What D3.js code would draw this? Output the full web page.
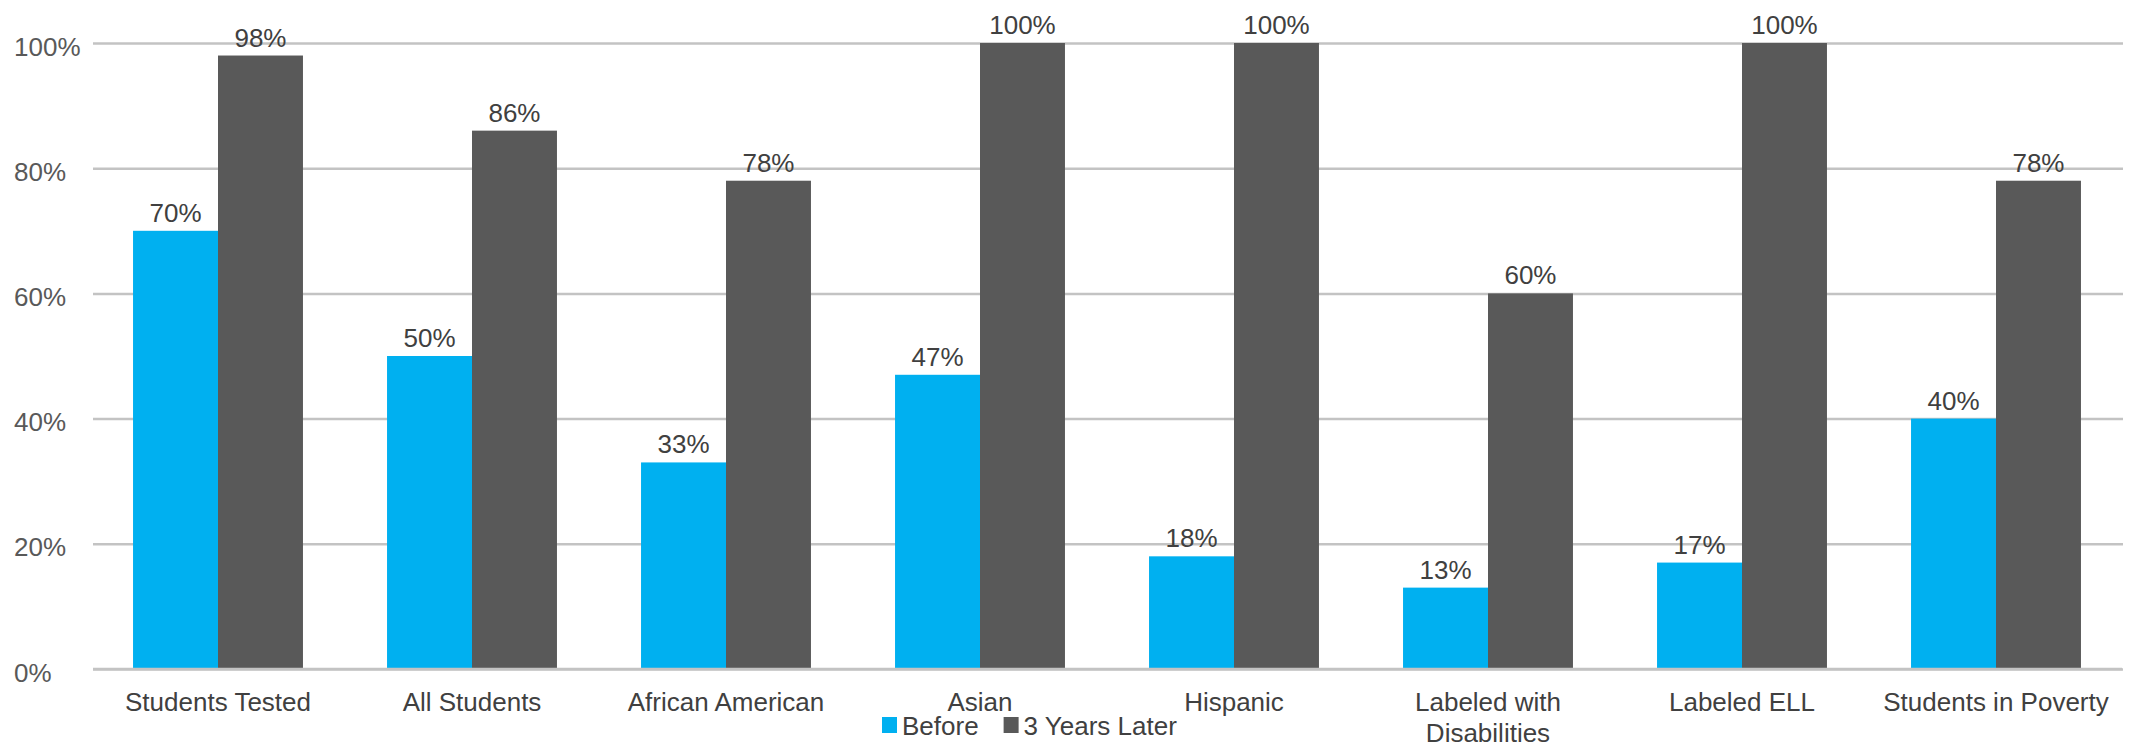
<!DOCTYPE html>
<html>
<head>
<meta charset="utf-8">
<script src="https://cdn.jsdelivr.net/npm/d3@7"></script>
<style>
  html, body { margin: 0; padding: 0; background: #fff; }
  svg { display: block; }
  text { font-family: "Liberation Sans", Arial, sans-serif; }
</style>
</head>
<body>
<svg id="chart" width="2129" height="748"></svg>
<script>
const categories = ["Students Tested", "All Students", "African American", "Asian", "Hispanic", "Labeled with Disabilities", "Labeled ELL", "Students in Poverty"];
const seriesNames = ["Before", "3 Years Later"];
const beforeValues = [70, 50, 33, 47, 18, 13, 17, 40];
const laterValues = [98, 86, 78, 100, 100, 60, 100, 78];
const yTicks = [0, 20, 40, 60, 80, 100];
const colors = ["#00b0f0", "#595959"];

const W = 2129, H = 748;
const plot = { left: 91, right: 2123, top: 43, bottom: 669 };

const svg = d3.select("#chart");

const x0 = d3.scaleBand().domain(categories).range([plot.left, plot.right]).paddingInner(0.331).paddingOuter(0.1655);
const x1 = d3.scaleBand().domain(seriesNames).range([0, x0.bandwidth()]);
const y = d3.scaleLinear().domain([0, 100]).range([plot.bottom, plot.top]);

// gridlines
const yAxis = d3.axisLeft(y).tickValues(yTicks).tickSize(-(plot.right - plot.left - 2)).tickFormat(d => d + "%");
const gy = svg.append("g").attr("transform", `translate(${plot.left + 2},0)`).call(yAxis);
gy.select(".domain").remove();
gy.selectAll(".tick line").attr("stroke", "#c3c3c3").attr("stroke-width", 2.5);
gy.selectAll(".tick text")
  .attr("x", 14 - (plot.left + 2))
  .attr("dy", "0.35em")
  .attr("y", 3)
  .attr("text-anchor", "start")
  .attr("fill", "#595959")
  .style("font-size", "26px");

// data table
const rows = categories.map((c, i) => ({ cat: c, vals: [beforeValues[i], laterValues[i]] }));

const groups = svg.append("g").selectAll("g").data(rows).join("g")
  .attr("transform", d => `translate(${x0(d.cat)},0)`);

groups.selectAll("rect").data(d => d.vals.map((v, j) => ({ name: seriesNames[j], v, j }))).join("rect")
  .attr("x", d => x1(d.name))
  .attr("width", x1.bandwidth())
  .attr("y", d => y(d.v))
  .attr("height", d => y(0) - y(d.v))
  .attr("fill", d => colors[d.j]);

groups.selectAll("text.val").data(d => d.vals.map((v, j) => ({ name: seriesNames[j], v, j }))).join("text")
  .attr("class", "val")
  .attr("x", d => x1(d.name) + x1.bandwidth() / 2)
  .attr("y", d => y(d.v) - 9)
  .attr("text-anchor", "middle")
  .attr("fill", "#404040")
  .style("font-size", "26px")
  .text(d => d.v + "%");

// baseline
svg.append("line")
  .attr("x1", plot.left + 2).attr("x2", plot.right - 1)
  .attr("y1", y(0)).attr("y2", y(0))
  .attr("stroke", "#c3c3c3").attr("stroke-width", 2.5);

// category labels (wrap when wider than the band allows)
const catG = svg.append("g");
categories.forEach(c => {
  const cx = x0(c) + x0.bandwidth() / 2;
  const t = catG.append("text")
    .attr("x", cx)
    .attr("y", 711)
    .attr("text-anchor", "middle")
    .attr("fill", "#404040")
    .style("font-size", "26px");
  const words = c.split(" ");
  let line = [];
  let tspan = t.append("tspan").attr("x", cx).attr("dy", 0);
  words.forEach(w => {
    line.push(w);
    tspan.text(line.join(" "));
    if (tspan.node().getComputedTextLength() > 250 && line.length > 1) {
      line.pop();
      tspan.text(line.join(" "));
      line = [w];
      tspan = t.append("tspan").attr("x", cx).attr("dy", 31).text(w);
    }
  });
});

// legend
const legend = svg.append("g").attr("transform", "translate(882,0)");
let lx = 0;
seriesNames.forEach((name, i) => {
  legend.append("rect").attr("x", lx).attr("y", 717).attr("width", 15).attr("height", 16).attr("fill", colors[i]);
  const t = legend.append("text").attr("x", lx + 20).attr("y", 735)
    .attr("fill", "#404040").style("font-size", "26px").text(name);
  lx += 20 + t.node().getComputedTextLength() + 25;
});
</script>
</body>
</html>
